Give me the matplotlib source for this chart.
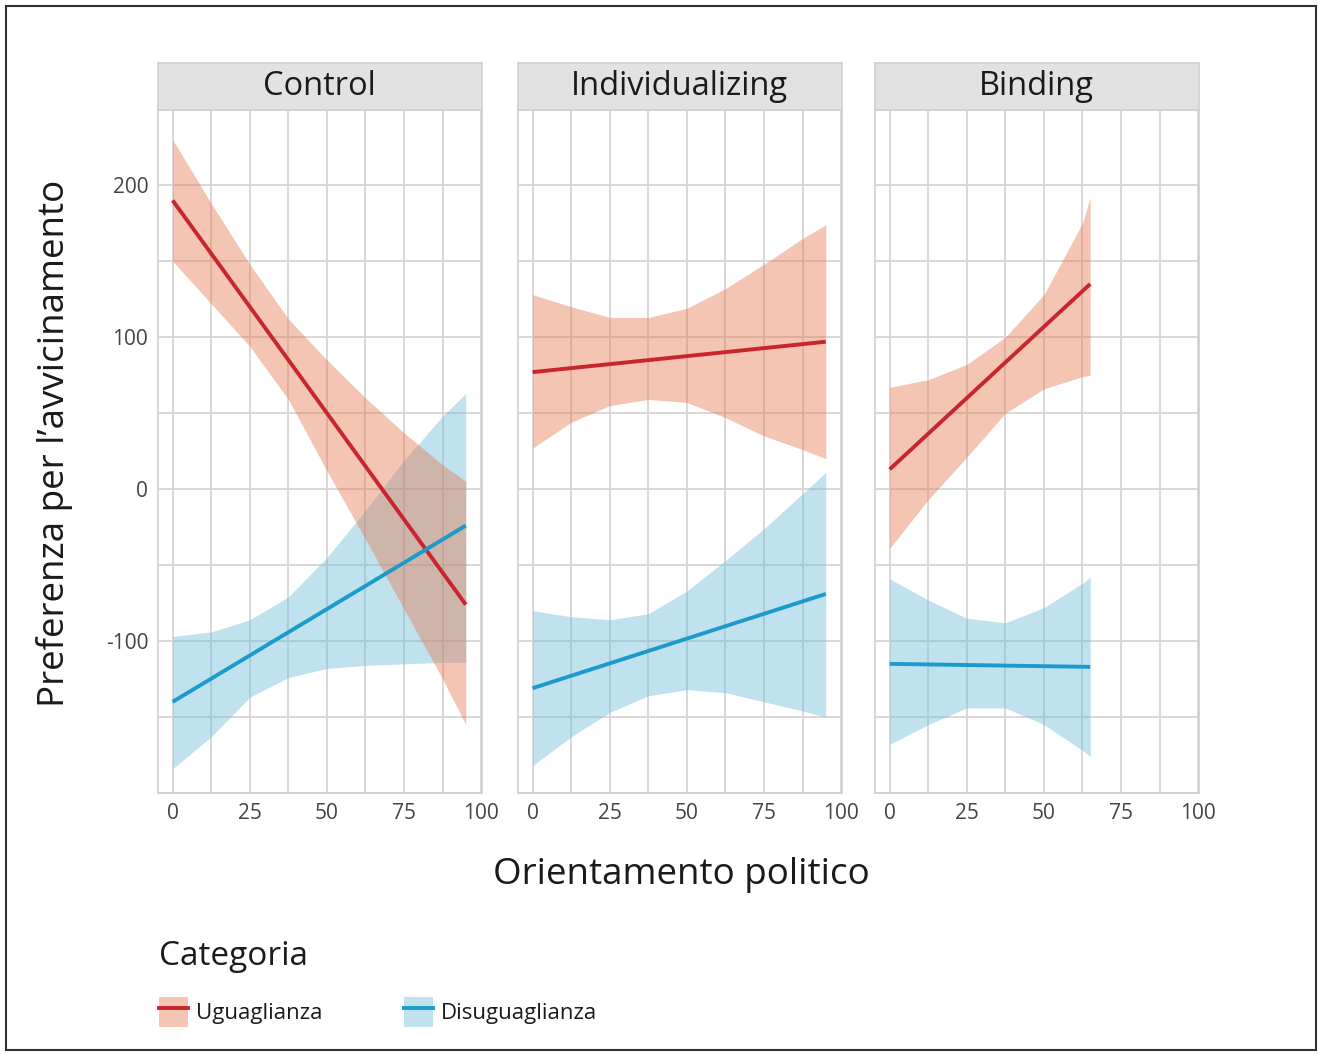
import matplotlib.pyplot as plt
from matplotlib.patches import Patch, Rectangle
from matplotlib.lines import Line2D
from matplotlib.legend_handler import HandlerTuple
from matplotlib.ticker import MultipleLocator, FixedLocator

plt.rcParams['font.family'] = ['Open Sans', 'DejaVu Sans']
plt.rcParams['axes.unicode_minus'] = False

panels = ['Control', 'Individualizing', 'Binding']
categories = ['Uguaglianza', 'Disuguaglianza']
y_ticks = [-100, 0, 100, 200]

# fitted lines: values at the first and last x of each panel
ctrl_x = [0, 12.5, 25, 37.5, 50, 62.5, 75, 87.5, 95]
ctrl_ugu_fit = [190, -76]
ctrl_ugu_hi = [230, 188, 148, 112, 85, 60, 37, 16, 5]
ctrl_ugu_lo = [150, 122, 94, 59, 12, -33, -79, -125, -155]
ctrl_dis_fit = [-140, -24]
ctrl_dis_hi = [-97, -94, -86, -71, -45, -14, 19, 48, 63]
ctrl_dis_lo = [-184, -163, -137, -124, -118, -116, -115, -114, -114]

ind_x = [0, 12.5, 25, 37.5, 50, 62.5, 75, 87.5, 95]
ind_ugu_fit = [77, 97]
ind_ugu_hi = [128, 120, 113, 113, 119, 132, 148, 165, 174]
ind_ugu_lo = [27, 44, 55, 59, 57, 47, 35, 26, 20]
ind_dis_fit = [-131, -69]
ind_dis_hi = [-80, -84, -86, -82, -67, -47, -26, -3, 11]
ind_dis_lo = [-182, -163, -147, -136, -132, -134, -140, -146, -150]

bind_x = [0, 12.5, 25, 37.5, 50, 62.5, 65]
bind_ugu_fit = [13, 135]
bind_ugu_hi = [67, 72, 82, 100, 128, 175, 192]
bind_ugu_lo = [-39, -7, 21, 50, 66, 74, 75]
bind_dis_fit = [-115, -117]
bind_dis_hi = [-59, -73, -85, -88, -78, -62, -58]
bind_dis_lo = [-168, -155, -144, -144, -155, -172, -176]

panel_data = {
    'Control': (ctrl_x, [(ctrl_ugu_fit, ctrl_ugu_hi, ctrl_ugu_lo),
                         (ctrl_dis_fit, ctrl_dis_hi, ctrl_dis_lo)]),
    'Individualizing': (ind_x, [(ind_ugu_fit, ind_ugu_hi, ind_ugu_lo),
                                (ind_dis_fit, ind_dis_hi, ind_dis_lo)]),
    'Binding': (bind_x, [(bind_ugu_fit, bind_ugu_hi, bind_ugu_lo),
                         (bind_dis_fit, bind_dis_hi, bind_dis_lo)]),
}

line_colors = ['#c8252c', '#1b9bcc']
fill_colors = ['#e6754a', '#6bbbd9']
fill_alpha = 0.42
grid_col = '#d6d6d6'
text_col = '#444444'

W, H = 1319, 1054
fig = plt.figure(figsize=(W / 100, H / 100), dpi=100)

lefts = [158, 518, 875]
pw = 323.5
p_top, p_bot = 110, 793
s_top = 63

for name, left in zip(panels, lefts):
    ax = fig.add_axes([left / W, 1 - p_bot / H, pw / W, (p_bot - p_top) / H])
    xs, series = panel_data[name]
    # blue band first so the salmon one sits on top where they overlap
    for (fit, hi, lo), fc in reversed(list(zip(series, fill_colors))):
        ax.fill_between(xs, lo, hi, color=fc, alpha=fill_alpha, lw=0, zorder=2)
    for (fit, hi, lo), lc in zip(series, line_colors):
        ax.plot([xs[0], xs[-1]], fit, color=lc, lw=2.8, zorder=3,
                solid_capstyle='butt')

    ax.set_xlim(-4.75, 100.1)
    ax.set_ylim(-200, 249.5)
    ax.xaxis.set_major_locator(MultipleLocator(25))
    ax.xaxis.set_minor_locator(MultipleLocator(12.5))
    ax.yaxis.set_major_locator(FixedLocator(y_ticks))
    ax.yaxis.set_minor_locator(MultipleLocator(50))
    ax.grid(True, which='both', color=grid_col, lw=1.3, zorder=0)
    ax.set_axisbelow(True)
    ax.tick_params(which='both', length=0, labelsize=15, labelcolor=text_col,
                   pad=7)
    if name != 'Control':
        ax.tick_params(axis='y', labelleft=False)
    for sp in ax.spines.values():
        sp.set_color('#cfcfcf')
        sp.set_linewidth(1.2)

    # facet strip
    sax = fig.add_axes([left / W, 1 - p_top / H, pw / W, (p_top - s_top) / H])
    sax.set_facecolor('#e2e2e2')
    sax.set_xticks([])
    sax.set_yticks([])
    for sp in sax.spines.values():
        sp.set_color('#d0d0d0')
        sp.set_linewidth(1.2)
    sax.text(0.5, 0.5, name, ha='center', va='center', fontsize=23.5,
             color='#1a1a1a', transform=sax.transAxes)

fig.text(55 / W, 1 - 443 / H, 'Preferenza per l\u2019avvicinamento',
         rotation=90, ha='center', va='center', fontsize=26.5, color='#1a1a1a')
fig.text(681 / W, 1 - 875 / H, 'Orientamento politico', ha='center',
         va='center', fontsize=26.5, color='#1a1a1a')

handles = [(Patch(facecolor=fc, alpha=fill_alpha, lw=0),
            Line2D([], [], color=lc, lw=2.8))
           for lc, fc in zip(line_colors, fill_colors)]
leg = fig.legend(handles, categories, title='Categoria', ncol=2,
                 loc='upper left', bbox_to_anchor=(150 / W, 1 - 931 / H),
                 frameon=False, fontsize=16, title_fontsize=24,
                 alignment='left', handlelength=1.3, handleheight=1.65,
                 handletextpad=0.35, columnspacing=3.7, labelspacing=1.1,
                 borderaxespad=0,
                 handler_map={tuple: HandlerTuple(ndivide=1, pad=0)})
for t in leg.get_texts():
    t.set_color('#1a1a1a')
leg.get_title().set_color('#1a1a1a')

fig.add_artist(Rectangle((6 / W, 4 / H), 1310 / W, 1044 / H,
                         transform=fig.transFigure, fill=False,
                         ec='#333333', lw=1.5))

fig.savefig('out.png', dpi=100, facecolor='white')
